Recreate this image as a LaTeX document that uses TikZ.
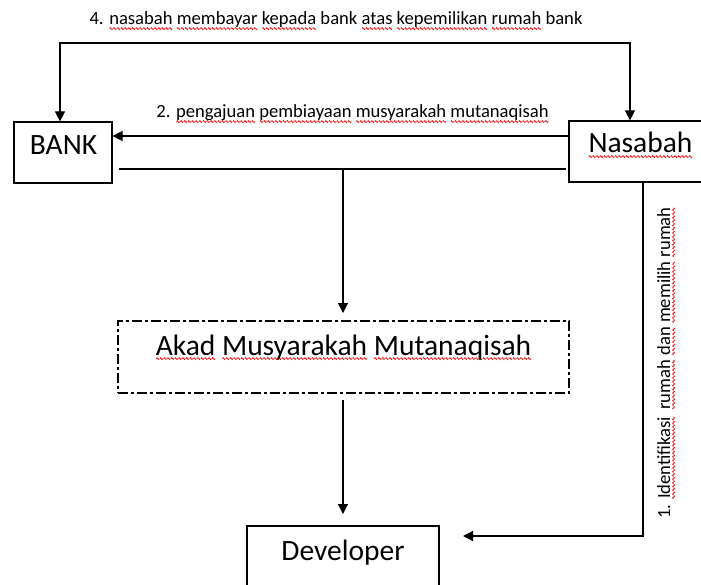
\documentclass[tikz,border=0pt]{standalone}
\usepackage{fontspec}
\setmainfont{Carlito}
\usetikzlibrary{arrows.meta}
\newsavebox{\sqbx}
\newcommand\wavebit{\tikz[baseline=0pt,x=1pt,y=1pt]\draw[red,line width=0.7pt] (0,-3.6) -- (0.75,-2.6) -- (2.25,-4.6) -- (3,-3.6);}
\newcommand\sqw[1]{\sbox\sqbx{#1}\leavevmode\rlap{\xleaders\hbox{\wavebit}\hskip\wd\sqbx}\usebox\sqbx}
\begin{document}
\begin{tikzpicture}[x=1pt,y=-1pt,
  box/.style={draw, line width=1.2pt, inner sep=0pt},
  conn/.style={line width=1.2pt, line join=miter},
  arr/.style={conn, -{Triangle[length=10pt,width=10pt]}},
  small/.style={font=\fontsize{18.6}{22}\selectfont, inner sep=0pt},
  big/.style={font=\fontsize{29.5}{34}\selectfont, inner sep=0pt}]
\useasboundingbox (0,0) rectangle (701,585);
\clip (0,0) rectangle (701,585);
% boxes
\node[box, minimum width=98pt, minimum height=61pt] (bank) at (63,152.5) {};
\node[box, minimum width=143pt, minimum height=61pt] (nas) at (640.5,151.5) {};
\node[box, minimum width=451pt, minimum height=72pt, dash pattern=on 10pt off 3pt on 3pt off 3pt] (akad) at (343.5,357) {};
\node[box, minimum width=192pt, minimum height=74pt] (dev) at (343,563) {};
% box texts
\node[big, anchor=base] (bankt) at (63.5,155) {BANK};
\node[big, anchor=base] (nast) at (640.5,153) {\sqw{Nasabah}};
\node[big, anchor=base] (akadt) at (343.5,355) {\sqw{Akad} \sqw{Musyarakah} \sqw{Mutanaqisah}};
\node[big, anchor=base] (devt) at (343,560) {Developer};
% labels
\node[small, anchor=base] (t4) at (336,25) {4. \sqw{nasabah} \sqw{membayar} \sqw{kepada} bank \sqw{atas} \sqw{kepemilikan} \sqw{rumah} bank};
\node[small, anchor=base] (t2) at (352.5,118) {2. \sqw{pengajuan} \sqw{pembiayaan} \sqw{musyarakah} \sqw{mutanaqisah}};
\node[small, anchor=base, rotate=90] (t1) at (670,363) {1. \sqw{Identifikasi}\hspace{3pt} \sqw{rumah} \sqw{dan} \sqw{memilih} \sqw{rumah}};
% connectors
\coordinate (c4l) at (60,43);
\coordinate (c4r) at (630,43);
\draw[conn, {Triangle[length=10pt,width=10pt]}-{Triangle[length=10pt,width=10pt]}]
  (c4l |- bank.north) -- (c4l) -- (c4r) -- (c4r |- nas.north);
\coordinate (a2) at (0,136);
\draw[arr] (nas.west |- a2) -- (bank.east |- a2);
\coordinate (l1) at (119,169);
\coordinate (l2) at (566,169);
\coordinate (j) at (343,169);
\coordinate (akin) at (343,313);
\draw[conn] (l1) -- (l2);
\draw[arr] (j) -- (akin);
\coordinate (akout) at (343,400);
\coordinate (devtop) at (343,514);
\draw[arr] (akout) -- (devtop);
\coordinate (nv) at (643,536);
\coordinate (devin) at (463,536);
\draw[arr] (nas.south -| nv) -- (nv) -- (devin);
\end{tikzpicture}
\end{document}
